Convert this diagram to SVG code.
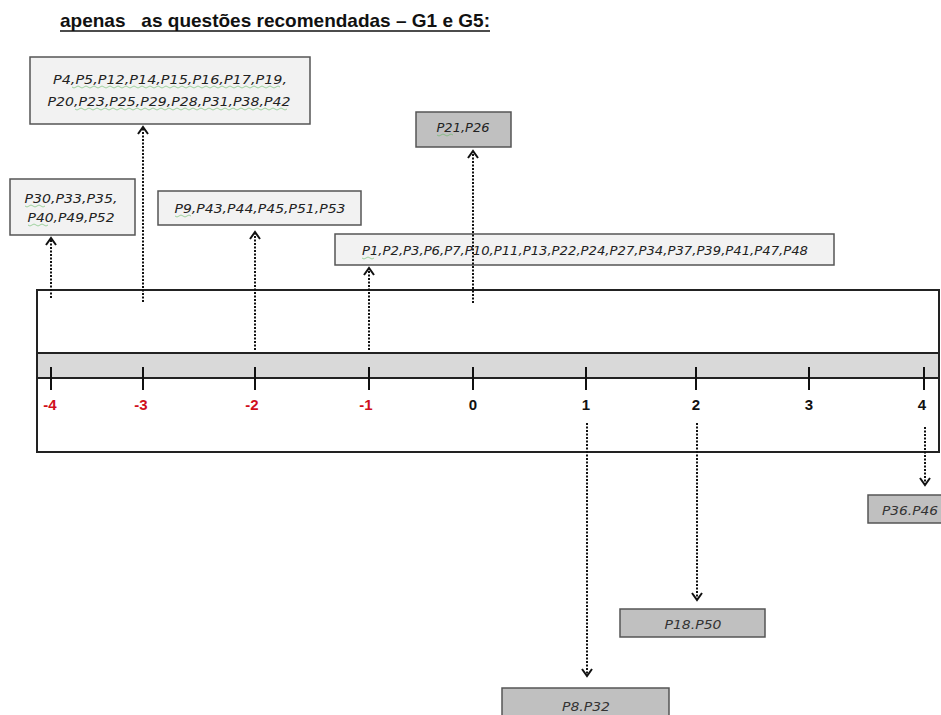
<svg xmlns="http://www.w3.org/2000/svg" width="941" height="715" viewBox="0 0 941 715">
  <style>
    .title { font-family: "Liberation Sans", Arial, sans-serif; font-weight: bold; font-size: 19px; fill: #111; }
    .box-light { fill: #f2f2f2; stroke: #555; stroke-width: 1.5; }
    .box-dark { fill: #c0c0c0; stroke: #555; stroke-width: 1.5; }
    .lbl { font-family: "DejaVu Sans", Verdana, sans-serif; font-style: italic; font-size: 12.5px; fill: #222; text-anchor: middle; }
    .lbl-dark { fill: #333; }
    .squiggle { fill: none; stroke: #5cb85c; stroke-width: 0.8; opacity: 0.7; }
    .frame { fill: none; stroke: #222; stroke-width: 2; }
    .band { fill: #d9d9d9; stroke: #222; stroke-width: 2; }
    .tick { stroke: #111; stroke-width: 2; }
    .num { font-family: "Liberation Sans", Arial, sans-serif; font-weight: bold; font-size: 15px; text-anchor: middle; }
    .neg { fill: #d0101c; }
    .pos { fill: #111; }
    .conn { fill: none; stroke: #111; stroke-width: 2; stroke-dasharray: 2 1.5; }
  </style>
  <defs>
    <marker id="chevron" markerUnits="userSpaceOnUse" viewBox="0 0 10 12" refX="8" refY="6" markerWidth="10" markerHeight="12" orient="auto">
      <path d="M1,1 L8,6 L1,11" fill="none" stroke="#111" stroke-width="2"/>
    </marker>
  </defs>

  <!-- heading -->
  <g id="heading">
    <text class="title" x="60" y="27" textLength="430" lengthAdjust="spacingAndGlyphs" xml:space="preserve">apenas   as questões recomendadas – G1 e G5:</text>
    <line x1="60" y1="31" x2="490" y2="31" stroke="#111" stroke-width="1.5"/>
  </g>

  <!-- scale: frame, grey band, ticks and numbers -->
  <g id="scale">
    <rect class="frame" x="37" y="290" width="902" height="162"/>
    <rect class="band" x="37" y="353" width="902" height="25"/>
    <g>
      <line class="tick" x1="51" y1="367" x2="51" y2="390"/>
      <line class="tick" x1="143" y1="367" x2="143" y2="390"/>
      <line class="tick" x1="255" y1="367" x2="255" y2="390"/>
      <line class="tick" x1="369" y1="367" x2="369" y2="390"/>
      <line class="tick" x1="473" y1="367" x2="473" y2="390"/>
      <line class="tick" x1="586" y1="367" x2="586" y2="390"/>
      <line class="tick" x1="696" y1="367" x2="696" y2="390"/>
      <line class="tick" x1="809" y1="367" x2="809" y2="390"/>
      <line class="tick" x1="924" y1="367" x2="924" y2="390"/>
    </g>
    <text class="num neg" x="50" y="410">-4</text>
    <text class="num neg" x="141" y="410">-3</text>
    <text class="num neg" x="252" y="410">-2</text>
    <text class="num neg" x="366" y="410">-1</text>
    <text class="num pos" x="473" y="410">0</text>
    <text class="num pos" x="586" y="410">1</text>
    <text class="num pos" x="696" y="410">2</text>
    <text class="num pos" x="809" y="410">3</text>
    <text class="num pos" x="922" y="410">4</text>
  </g>

  <!-- nodes -->
  <g id="node-m3">
    <rect class="box-light" x="30" y="57" width="280" height="67"/>
    <text class="lbl" x="170" y="84" textLength="234" lengthAdjust="spacingAndGlyphs">P4,P5,P12,P14,P15,P16,P17,P19,</text>
    <text class="lbl" x="169" y="106" textLength="243" lengthAdjust="spacingAndGlyphs">P20,P23,P25,P29,P28,P31,P38,P42</text>
    <path class="squiggle" d="M72,87 q2,2 4,0 t4,0 t4,0 t4,0 t4,0 t4,0 t4,0 t4,0 t4,0 t4,0 t4,0 t4,0 t4,0 t4,0 t4,0 t4,0 t4,0 t4,0 t4,0 t4,0 t4,0 t4,0 t4,0 t4,0 t4,0 t4,0 t4,0 t4,0 t4,0 t4,0 t4,0 t4,0 t4,0 t4,0 t4,0 t4,0 t4,0 t4,0 t4,0 t4,0 t4,0 t4,0 t4,0 t4,0 t4,0 t4,0 t4,0 t4,0 t4,0 t4,0 t4,0 t4,0"/>
    <path class="squiggle" d="M75,109 q2,2 4,0 t4,0 t4,0 t4,0 t4,0 t4,0 t4,0 t4,0 t4,0 t4,0 t4,0 t4,0 t4,0 t4,0 t4,0 t4,0 t4,0 t4,0 t4,0 t4,0 t4,0 t4,0 t4,0 t4,0 t4,0 t4,0 t4,0 t4,0 t4,0 t4,0 t4,0 t4,0 t4,0 t4,0 t4,0 t4,0 t4,0 t4,0 t4,0 t4,0 t4,0 t4,0 t4,0 t4,0 t4,0 t4,0 t4,0 t4,0 t4,0 t4,0 t4,0 t4,0 t4,0"/>
  </g>

  <g id="node-m4">
    <rect class="box-light" x="10" y="179" width="125" height="56"/>
    <text class="lbl" x="71" y="203" textLength="93" lengthAdjust="spacingAndGlyphs">P30,P33,P35,</text>
    <text class="lbl" x="71" y="222" textLength="87" lengthAdjust="spacingAndGlyphs">P40,P49,P52</text>
    <path class="squiggle" d="M25,206 q2,2 4,0 t4,0 t4,0 t4,0 t4,0"/>
    <path class="squiggle" d="M28,225 q2,2 4,0 t4,0 t4,0 t4,0 t4,0"/>
  </g>

  <g id="node-m2">
    <rect class="box-light" x="158" y="191" width="203" height="34"/>
    <text class="lbl" x="260" y="213" textLength="171" lengthAdjust="spacingAndGlyphs">P9,P43,P44,P45,P51,P53</text>
    <path class="squiggle" d="M175,216 q2,2 4,0 t4,0 t4,0 t4,0"/>
  </g>

  <g id="node-m1">
    <rect class="box-light" x="335" y="234" width="499" height="31"/>
    <text class="lbl" x="585" y="255" textLength="446" lengthAdjust="spacingAndGlyphs">P1,P2,P3,P6,P7,P10,P11,P13,P22,P24,P27,P34,P37,P39,P41,P47,P48</text>
    <path class="squiggle" d="M362,258 q2,2 4,0 t4,0 t4,0"/>
  </g>

  <g id="node-0">
    <rect class="box-dark" x="416" y="112" width="95" height="35"/>
    <text class="lbl" x="463" y="132" textLength="53" lengthAdjust="spacingAndGlyphs">P21,P26</text>
    <path class="squiggle" d="M437,135 q2,2 4,0 t4,0 t4,0 t4,0"/>
  </g>

  <g id="node-4">
    <rect class="box-dark" x="868" y="495" width="75" height="28"/>
    <text class="lbl lbl-dark" x="910" y="515" textLength="56" lengthAdjust="spacingAndGlyphs">P36.P46</text>
  </g>

  <g id="node-2">
    <rect class="box-dark" x="620" y="609" width="145" height="28"/>
    <text class="lbl lbl-dark" x="693" y="629" textLength="57" lengthAdjust="spacingAndGlyphs">P18.P50</text>
  </g>

  <g id="node-1">
    <rect class="box-dark" x="502" y="688" width="167" height="30"/>
    <text class="lbl lbl-dark" x="586" y="711" textLength="48" lengthAdjust="spacingAndGlyphs">P8.P32</text>
  </g>

  <!-- connectors -->
  <g id="connectors">
    <path class="conn" d="M51,298 L51,238" marker-end="url(#chevron)"/>
    <path class="conn" d="M143,302 L143,127" marker-end="url(#chevron)"/>
    <path class="conn" d="M255,350 L255,232" marker-end="url(#chevron)"/>
    <path class="conn" d="M369,350 L369,268" marker-end="url(#chevron)"/>
    <path class="conn" d="M473,303 L473,151" marker-end="url(#chevron)"/>
    <path class="conn" d="M587,423 L587,676" marker-end="url(#chevron)"/>
    <path class="conn" d="M697,423 L697,600" marker-end="url(#chevron)"/>
    <path class="conn" d="M925,427 L925,485" marker-end="url(#chevron)"/>
  </g>
</svg>
